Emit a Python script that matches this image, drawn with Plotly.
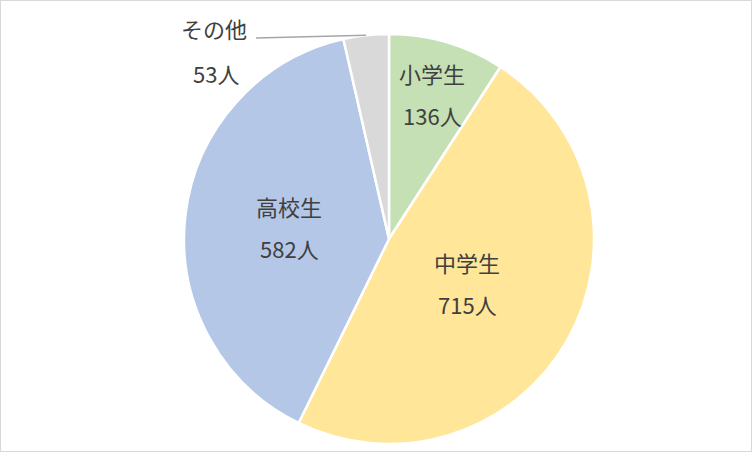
import math
import plotly.graph_objects as go

# data
labels = ['小学生', '中学生', '高校生', 'その他']
values = [136, 715, 582, 53]
unit = '人'

# style
W, H = 752, 452
colors = ['#C5E0B4', '#FFE699', '#B4C7E7', '#D9D9D9']
text_color = '#404040'
font_family = 'Noto Sans CJK JP, Noto Sans, sans-serif'
cx, cy, R = 389, 239, 205          # pie centre / radius in pixels
label_r = [0.74, 0.44, 0.49, None]  # label distance as share of radius
line_gap = 21                       # half gap between the two label lines


def px(x):
    return x / W


def py(y):
    return 1 - y / H


fig = go.Figure(go.Pie(
    labels=labels,
    values=values,
    sort=False,
    direction='clockwise',
    rotation=0,
    textinfo='none',
    hoverinfo='label+value',
    marker=dict(colors=colors, line=dict(color='#FFFFFF', width=2.5)),
    domain=dict(x=[px(cx - R), px(cx + R)], y=[py(cy + R), py(cy - R)]),
    showlegend=False,
))

font = dict(family=font_family, size=22, color=text_color)
ann = dict(xref='paper', yref='paper', showarrow=False, font=font,
           xanchor='center', yanchor='middle')
total = sum(values)
start = 0.0
for lab, val, fr in zip(labels, values, label_r):
    span = val / total * 360
    mid = math.radians(start + span / 2)
    start += span
    if fr is not None:
        x = cx + R * fr * math.sin(mid)
        y = cy - R * fr * math.cos(mid)
        fig.add_annotation(x=px(x), y=py(y), text=lab, yshift=line_gap, **ann)
        fig.add_annotation(x=px(x), y=py(y), text=f'{val}{unit}', yshift=-line_gap, **ann)
    else:
        # outside label with leader line to the slice edge
        ex = cx + R * math.sin(mid)
        ey = cy - R * math.cos(mid)
        fig.add_shape(type='line', xref='paper', yref='paper',
                      x0=px(256), y0=py(38), x1=px(ex), y1=py(ey),
                      line=dict(color='#A6A6A6', width=1.5))
        fig.add_annotation(x=px(214), y=py(28), text=lab, **ann)
        fig.add_annotation(x=px(216), y=py(73), text=f'{val}{unit}', **ann)

# chart border
fig.add_shape(type='rect', xref='paper', yref='paper', x0=0, y0=0, x1=1, y1=1,
              line=dict(color='#D9D9D9', width=2))

fig.update_layout(
    width=W, height=H,
    margin=dict(l=0, r=0, t=0, b=0),
    paper_bgcolor='#FFFFFF',
    plot_bgcolor='#FFFFFF',
)

# drop the page's default body margin so the chart fills the window
fig.write_html('out.html', config={'displayModeBar': False},
               post_script="document.body.style.margin='0';")
